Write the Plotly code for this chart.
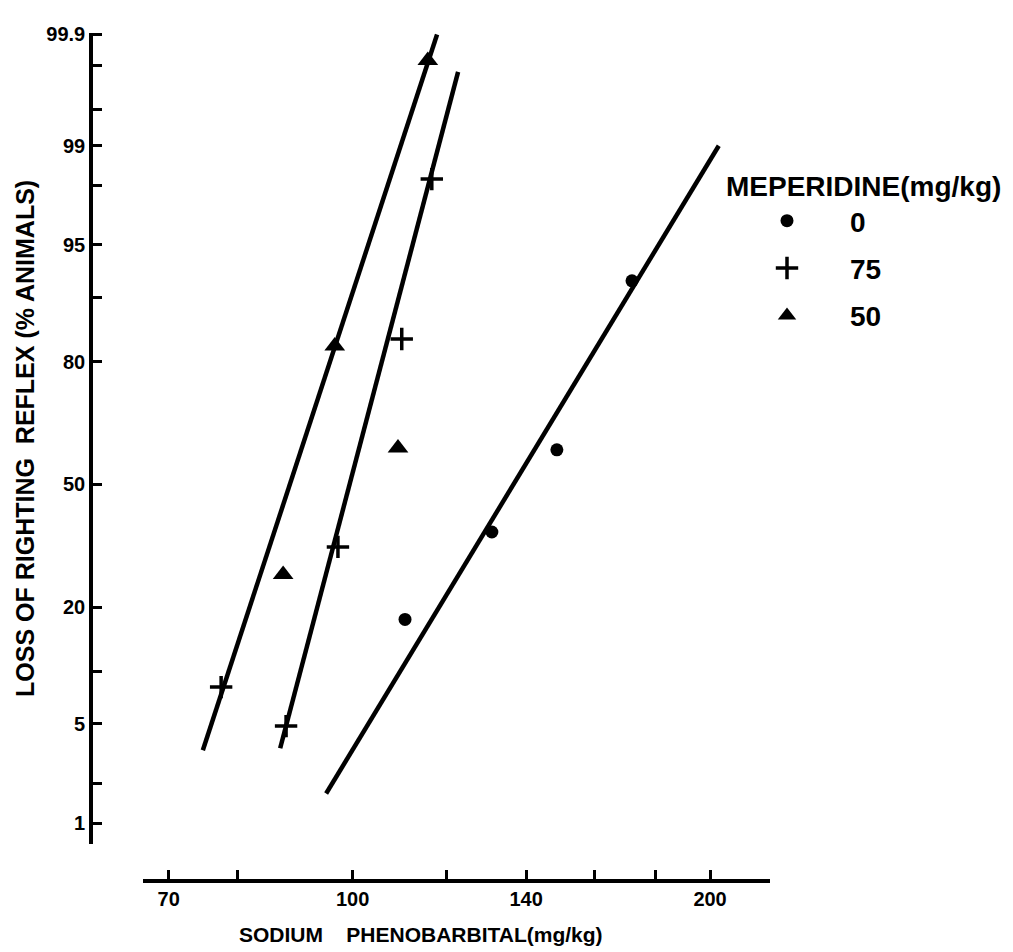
import plotly.graph_objects as go
from statistics import NormalDist

# ---------------- data ----------------
# Meperidine 0 mg/kg  (filled circles)
dose_0 = [110.7, 131.0, 148.6, 171.9]
pct_0 = [17.7, 37.2, 59.4, 91.9]

# Meperidine 75 mg/kg (plus signs)
dose_75 = [77.5, 87.9, 97.2, 110.0, 116.6]
pct_75 = [8.2, 4.85, 33.4, 84.1, 98.2]

# Meperidine 50 mg/kg (triangles)
dose_50 = [87.4, 96.6, 109.2, 115.7]
pct_50 = [26.8, 82.9, 59.9, 99.82]

# fitted dose-response lines (end points)
fit_left_dose = [74.8, 117.8]
fit_left_pct = [3.4, 99.9]
fit_mid_dose = [86.9, 122.7]
fit_mid_pct = [3.5, 99.77]
fit_right_dose = [95.0, 203.4]
fit_right_pct = [1.69, 99.0]

legend_names = ["0", "75", "50"]

x_tick_vals = [70, 80, 100, 120, 140, 160, 180, 200]
x_tick_text = ["70", "", "100", "", "140", "", "", "200"]

y_tick_pcts = [1, 2, 5, 10, 20, 50, 80, 90, 95, 98, 99, 99.5, 99.8, 99.9]
y_tick_text = ["1", "", "5", "", "20", "50", "80", "", "95", "", "99", "", "", "99.9"]

# ---------------- probit transform ----------------
_nd = NormalDist()


def probit(values):
    return [_nd.inv_cdf(v / 100.0) for v in values]


FONT = "Liberation Sans, Arial, sans-serif"

fig = go.Figure()

for dx, dy in [(fit_left_dose, fit_left_pct), (fit_mid_dose, fit_mid_pct),
               (fit_right_dose, fit_right_pct)]:
    fig.add_trace(go.Scatter(x=dx, y=probit(dy), mode="lines",
                             line=dict(color="black", width=4.5),
                             showlegend=False, hoverinfo="skip"))

fig.add_trace(go.Scatter(
    x=dose_0, y=probit(pct_0), mode="markers", name=legend_names[0],
    legendgroup="g0",
    marker=dict(symbol="circle", size=13, color="black"),
    cliponaxis=False))
fig.add_trace(go.Scatter(
    x=dose_75, y=probit(pct_75), mode="markers", name=legend_names[1],
    legendgroup="g1",
    marker=dict(symbol="cross-thin", size=16, color="black",
                line=dict(color="black", width=3.5)),
    cliponaxis=False))
fig.add_trace(go.Scatter(
    x=dose_50, y=probit(pct_50), mode="markers", name=legend_names[2],
    legendgroup="g2",
    marker=dict(symbol="triangle-up", size=18, color="black"),
    cliponaxis=False))

fig.update_layout(
    width=1013, height=952,
    margin=dict(l=0, r=0, t=0, b=0),
    paper_bgcolor="white", plot_bgcolor="white",
    font=dict(family=FONT, color="black"),
    xaxis=dict(
        type="log",
        domain=[0.14116, 0.76012],
        range=[1.8235, 2.3515],
        anchor="free", position=0.0756,
        showline=True, linecolor="black", linewidth=3.5,
        ticks="inside", ticklen=9, tickwidth=3, tickcolor="black",
        tickmode="array", tickvals=x_tick_vals, ticktext=x_tick_text,
        tickfont=dict(size=20, family=FONT, weight="bold"),
        showgrid=False, zeroline=False,
    ),
    yaxis=dict(
        domain=[0.11450, 0.97479],
        range=[-2.4694, 3.1020],
        anchor="free", position=0.08983,
        showline=True, linecolor="black", linewidth=3.5,
        ticks="inside", ticklen=9, tickwidth=3, tickcolor="black",
        tickmode="array", tickvals=probit(y_tick_pcts), ticktext=y_tick_text,
        tickfont=dict(size=20, family=FONT, weight="bold"),
        showgrid=False, zeroline=False,
        title=dict(text="LOSS OF RIGHTING\u00a0\u00a0REFLEX (% ANIMALS)",
                   font=dict(size=25, family=FONT, weight="bold"),
                   standoff=4),
    ),
    annotations=[dict(
        text="SODIUM\u00a0\u00a0\u00a0\u00a0PHENOBARBITAL(mg/kg)",
        xref="paper", yref="paper", x=421 / 1013, y=0.004,
        xanchor="center", yanchor="bottom", showarrow=False,
        font=dict(size=21, family=FONT, weight="bold", color="black"),
    )],
    showlegend=True,
    legend=dict(
        x=724 / 1013, y=1 - 152 / 952, xanchor="left", yanchor="top",
        bgcolor="rgba(0,0,0,0)",
        font=dict(size=28, family=FONT, weight="bold"),
        title=dict(text="MEPERIDINE(mg/kg)",
                   font=dict(size=28, family=FONT, weight="bold")),
        tracegroupgap=8, itemwidth=116,
    ),
)

fig.write_html(
    "out.html",
    config={"displayModeBar": False},
    post_script="document.body.style.margin='0';"
                "document.body.style.overflow='hidden';",
)
